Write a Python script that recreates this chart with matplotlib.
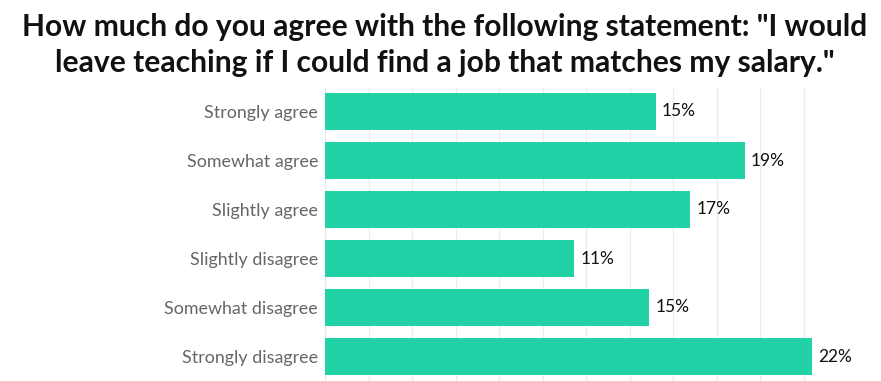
import matplotlib

matplotlib.use("Agg")  # headless mode
import matplotlib.pyplot as plt

plt.rcParams["font.family"] = ["Lato", "DejaVu Sans"]

# Survey data
categories = [
    "Strongly agree",
    "Somewhat agree",
    "Slightly agree",
    "Slightly disagree",
    "Somewhat disagree",
    "Strongly disagree",
]
shares = [15.2, 19.3, 16.8, 11.45, 14.9, 22.4]
value_labels = ["15%", "19%", "17%", "11%", "15%", "22%"]
grid_ticks = list(range(0, 25, 2))

title_lines = [
    'How much do you agree with the following statement: "I would',
    'leave teaching if I could find a job that matches my salary."',
]

bar_color = "#20d2a6"
label_color = "#666666"

W, H = 881, 381
fig = plt.figure(figsize=(W / 100, H / 100), dpi=100)
ax = fig.add_axes([325 / W, 0.0, (847 - 325) / W, 1 - 87 / H])

y_pos = list(range(len(categories)))
ax.barh(y_pos, shares, height=0.745, color=bar_color, zorder=2)

# value labels right of each bar
for y, val, txt in zip(y_pos, shares, value_labels):
    ax.text(val + 0.28, y, txt, va="center", ha="left", fontsize=12.5, color="#111111")

ax.set_xlim(0, 24)
ax.set_ylim(len(categories) - 0.5, -0.5)
ax.set_yticks(y_pos)
ax.set_yticklabels(categories, fontsize=12.9, color=label_color)
ax.tick_params(axis="y", length=0, pad=5)
ax.set_xticks(grid_ticks)
ax.tick_params(axis="x", length=0, labelbottom=False)
ax.grid(axis="x", color="#ececec", linewidth=0.9, zorder=0)
ax.set_axisbelow(True)
for spine in ax.spines.values():
    spine.set_visible(False)

# title, one text per line so baselines sit where the reference has them
for line, base in zip(title_lines, [35.7, 71.7]):
    fig.text(
        0.505,
        1 - base / H,
        line,
        ha="center",
        va="baseline",
        fontsize=21.6,
        fontweight="bold",
        color="#111111",
    )

fig.savefig("out.png", dpi=100)
